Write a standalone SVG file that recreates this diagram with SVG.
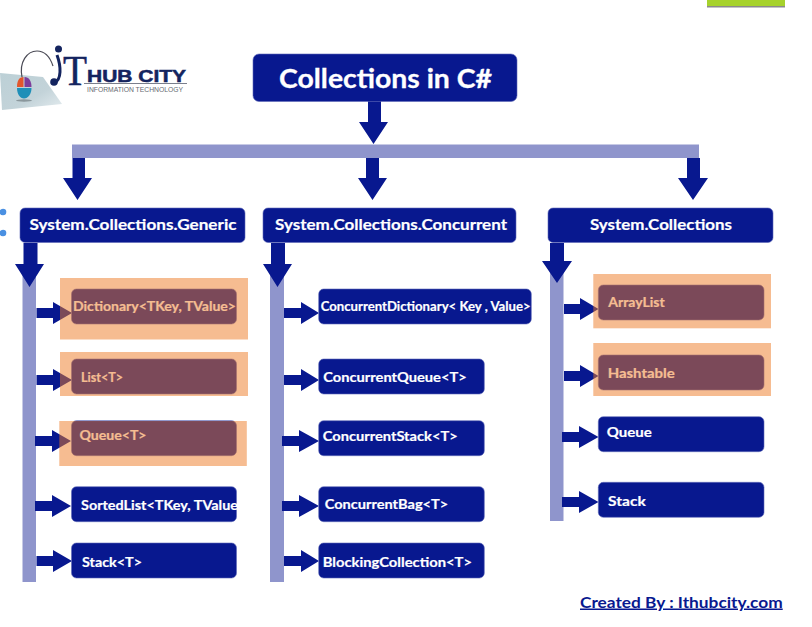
<svg xmlns="http://www.w3.org/2000/svg" width="812" height="627" viewBox="0 0 812 627">
<style>
text{font-family:"Lato","Open Sans","Liberation Sans",sans-serif;font-weight:700}
.box{fill:#08188f;stroke:#5f69b8;stroke-width:.6}
.lbl{fill:#fff;font-size:14px;stroke:#fff;stroke-width:.2}
.hdr{fill:#fff;font-size:16px;stroke:#fff;stroke-width:.2}
.bar{fill:#8f95cc}
.arr{fill:#08188f}
.hl{fill:#ed7923;fill-opacity:.5}
</style>
<defs>
<linearGradient id="pad" x1="0" y1="0" x2="1" y2="1"><stop offset="0" stop-color="#bcd0d6"/><stop offset=".6" stop-color="#c3d3d9"/><stop offset="1" stop-color="#e4ecef"/></linearGradient>
</defs>
<rect width="812" height="627" fill="#fff"/>
<g id="corner-tab">
<rect x="707" y="6" width="78" height="1.500" fill="#8a8a8a"/>
<rect x="707" y="0" width="78" height="6" fill="#a6d22c"/>
</g>
<g id="logo">
<polygon points="0,73 43,77 62,104 2,110" fill="url(#pad)"/>
<ellipse cx="24" cy="100.500" rx="8" ry="1.200" fill="#8a979c"/>
<path d="M22,77 C19,62 27,51 37,51 C45,51 50,57 53,66" fill="none" stroke="#4a4a55" stroke-width="1.200"/>
<path d="M17,87 C17,81 19,77 23.500,77 V87 Z" fill="#e2562c"/>
<path d="M24.500,77 C29,77 31.500,81 31.500,87 H24.500 Z" fill="#7d3d9b"/>
<path d="M17,88 H31.500 C31.500,94 28,98.500 24,98.500 C20,98.500 17,94 17,88 Z" fill="#1f8fb8"/>
<path d="M57,55 C61,66 62,80 54,83" fill="none" stroke="#14245f" stroke-width="3"/>
<circle cx="58.500" cy="49" r="3.500" fill="#14245f"/>
<circle cx="54" cy="82" r="3.800" fill="#14245f"/>
<text x="63" y="85" style="font-family:'Liberation Serif',serif;font-weight:400;font-size:42px" fill="#14245f" stroke="#14245f" stroke-width=".5" textLength="24" lengthAdjust="spacingAndGlyphs">T</text>
<text x="87" y="81.500" style="font-family:'Liberation Sans',sans-serif;font-weight:700;font-size:16.500px" fill="#14245f" stroke="#14245f" stroke-width=".5" textLength="99" lengthAdjust="spacingAndGlyphs">HUB CITY</text>
<rect x="84" y="83" width="103" height="1" fill="#7a7f8c"/>
<text x="87" y="92" style="font-family:'Liberation Sans',sans-serif;font-weight:400;font-size:7.500px" fill="#666a72" textLength="96" lengthAdjust="spacingAndGlyphs">INFORMATION TECHNOLOGY</text>
</g>
<g id="connectors">
<rect class="bar" x="72" y="144.500" width="627" height="13.500"/>
<rect class="bar" x="22.500" y="270" width="13.500" height="312"/>
<rect class="bar" x="270" y="270" width="14" height="312"/>
<rect class="bar" x="550" y="265" width="13.500" height="256"/>
<polygon class="arr" points="368,101 381,101 381,122 388,122 373.500,144 359,122 368,122"/>
<polygon class="arr" points="72.500,158 85,158 85,178 92,178 77.500,200 63,178 72.500,178"/>
<polygon class="arr" points="366,158 379,158 379,178 387,178 372.500,200 358,178 366,178"/>
<polygon class="arr" points="687,158 700,158 700,178 708,178 693,200 678,178 687,178"/>
<polygon class="arr" points="23.500,243 37.500,243 37.500,264 44,264 29.500,287 15,264 23.500,264"/>
<polygon class="arr" points="271,243 285,243 285,264 292,264 277.500,287 263,264 271,264"/>
<polygon class="arr" points="550,243 564,243 564,261 572,261 557,283 542,261 550,261"/>
<polygon class="arr" points="36.500,308 53,308 53,302 72,313 53,324 53,318 36.500,318"/>
<polygon class="arr" points="36.500,375 53,375 53,369 72,380 53,391 53,385 36.500,385"/>
<polygon class="arr" points="35,436 52,436 52,430 71,441 52,452 52,446 35,446"/>
<polygon class="arr" points="35,501 52,501 52,495 71,506 52,517 52,511 35,511"/>
<polygon class="arr" points="36.500,556 53,556 53,550 72,561 53,572 53,566 36.500,566"/>
<polygon class="arr" points="284,308 301,308 301,302 319,313 301,324 301,318 284,318"/>
<polygon class="arr" points="284,375 301,375 301,369 319,380 301,391 301,385 284,385"/>
<polygon class="arr" points="282,436 299,436 299,430 319,441 299,452 299,446 282,446"/>
<polygon class="arr" points="282,501 299,501 299,495 319,506 299,517 299,511 282,511"/>
<polygon class="arr" points="284,556 301,556 301,550 319,561 301,572 301,566 284,566"/>
<polygon class="arr" points="564,304 580,304 580,298 598.500,309 580,320 580,314 564,314"/>
<polygon class="arr" points="564,371 580,371 580,365 598.500,376 580,387 580,381 564,381"/>
<polygon class="arr" points="562,432 579,432 579,426 598.500,437 579,448 579,442 562,442"/>
<polygon class="arr" points="562,497 579,497 579,491 598.500,502 579,513 579,507 562,507"/>
</g>
<g id="dots">
<circle cx="3" cy="212" r="3.300" fill="#4a90e2"/>
<circle cx="3" cy="233" r="3.300" fill="#4a90e2"/>
</g>
<g id="title">
<rect class="box" x="253" y="54" width="264" height="47.500" rx="6"/>
<text x="279" y="88" fill="#fff" stroke="#fff" stroke-width=".3" font-size="26" textLength="213" lengthAdjust="spacingAndGlyphs">Collections in C#</text>
</g>
<g id="hdr-generic">
<rect class="box" x="20" y="208" width="225" height="34.500" rx="5"/>
<text class="hdr" x="29.500" y="229.500" textLength="207" lengthAdjust="spacingAndGlyphs">System.Collections.Generic</text>
</g>
<g id="hdr-concurrent">
<rect class="box" x="263" y="208" width="253" height="34.500" rx="5"/>
<text class="hdr" x="275" y="230" textLength="232" lengthAdjust="spacingAndGlyphs">System.Collections.Concurrent</text>
</g>
<g id="hdr-collections">
<rect class="box" x="548" y="208" width="225" height="34.500" rx="5"/>
<text class="hdr" x="590" y="230" textLength="142" lengthAdjust="spacingAndGlyphs">System.Collections</text>
</g>
<g id="g-dictionary">
<rect class="box" x="71.500" y="289" width="165" height="35" rx="5"/>
<text class="lbl" x="73" y="311" textLength="163" lengthAdjust="spacingAndGlyphs">Dictionary&lt;TKey, TValue&gt;</text>
<rect class="hl" x="60" y="278" width="188" height="61.500"/>
</g>
<g id="g-list">
<rect class="box" x="71.500" y="359" width="165" height="35" rx="5"/>
<text class="lbl" x="81" y="381.500" textLength="42" lengthAdjust="spacingAndGlyphs">List&lt;T&gt;</text>
<rect class="hl" x="60" y="352" width="188" height="44"/>
</g>
<g id="g-queue">
<rect class="box" x="71.500" y="420.700" width="165" height="35" rx="5"/>
<text class="lbl" x="79.500" y="440" textLength="67" lengthAdjust="spacingAndGlyphs">Queue&lt;T&gt;</text>
<rect class="hl" x="59.300" y="421" width="187.500" height="45"/>
</g>
<g id="g-sortedlist">
<rect class="box" x="71.500" y="486.700" width="165" height="35" rx="5"/>
<text class="lbl" x="81" y="510" textLength="157" lengthAdjust="spacingAndGlyphs">SortedList&lt;TKey, TValue</text>
</g>
<g id="g-stack">
<rect class="box" x="71.500" y="543" width="165" height="35" rx="5"/>
<text class="lbl" x="82" y="566.500" textLength="60" lengthAdjust="spacingAndGlyphs">Stack&lt;T&gt;</text>
</g>
<g id="c-dictionary">
<rect class="box" x="318.700" y="289" width="212.600" height="35" rx="5"/>
<text class="lbl" x="320.700" y="311" textLength="210" lengthAdjust="spacingAndGlyphs">ConcurrentDictionary&lt; Key , Value&gt;</text>
</g>
<g id="c-queue">
<rect class="box" x="318.700" y="359" width="165.600" height="35" rx="5"/>
<text class="lbl" x="323.300" y="382" textLength="143.400" lengthAdjust="spacingAndGlyphs">ConcurrentQueue&lt;T&gt;</text>
</g>
<g id="c-stack">
<rect class="box" x="318.700" y="420.700" width="165.600" height="35" rx="5"/>
<text class="lbl" x="322.700" y="440.500" textLength="135" lengthAdjust="spacingAndGlyphs">ConcurrentStack&lt;T&gt;</text>
</g>
<g id="c-bag">
<rect class="box" x="318.700" y="486.700" width="165.600" height="35" rx="5"/>
<text class="lbl" x="324.700" y="509" textLength="123.600" lengthAdjust="spacingAndGlyphs">ConcurrentBag&lt;T&gt;</text>
</g>
<g id="c-blocking">
<rect class="box" x="318.700" y="543" width="165.600" height="35" rx="5"/>
<text class="lbl" x="322.700" y="566.500" textLength="149.300" lengthAdjust="spacingAndGlyphs">BlockingCollection&lt;T&gt;</text>
</g>
<g id="s-arraylist">
<rect class="box" x="598.300" y="285" width="165.700" height="35" rx="5"/>
<text class="lbl" x="608.300" y="306.500" textLength="56.400" lengthAdjust="spacingAndGlyphs">ArrayList</text>
<rect class="hl" x="593.300" y="274" width="177.700" height="54.300"/>
</g>
<g id="s-hashtable">
<rect class="box" x="598.300" y="355" width="165.700" height="35" rx="5"/>
<text class="lbl" x="607.700" y="378" textLength="67" lengthAdjust="spacingAndGlyphs">Hashtable</text>
<rect class="hl" x="593.300" y="343" width="177.700" height="53"/>
</g>
<g id="s-queue">
<rect class="box" x="598.300" y="416.700" width="165.700" height="35" rx="5"/>
<text class="lbl" x="606.700" y="436.500" textLength="45" lengthAdjust="spacingAndGlyphs">Queue</text>
</g>
<g id="s-stack">
<rect class="box" x="598.300" y="482.300" width="165.700" height="35" rx="5"/>
<text class="lbl" x="608" y="505.500" textLength="37.700" lengthAdjust="spacingAndGlyphs">Stack</text>
</g>
<g id="credit">
<text x="580" y="607.500" fill="#08188f" font-size="15" text-decoration="underline" textLength="202.700" lengthAdjust="spacingAndGlyphs">Created By : Ithubcity.com</text>
</g>
</svg>
